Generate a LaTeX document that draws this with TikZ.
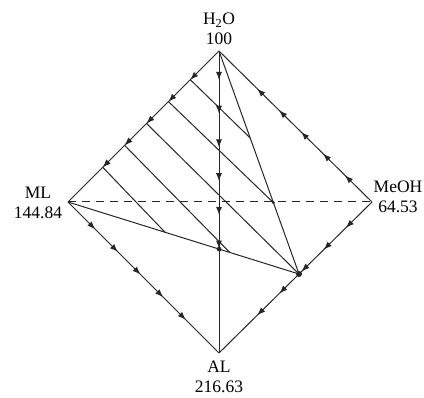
\documentclass[tikz,border=0pt]{standalone}
\usepackage{fontspec}
\setmainfont{Liberation Serif}
\usetikzlibrary{decorations.markings,arrows.meta,calc}
\tikzset{
  ln/.style={line width=1pt, draw=black!85},
  arrs/.style n args={3}{postaction={decorate,decoration={markings,
    mark=between positions #1 and #2 step #3 with {\arrow{Latex[length=8pt,width=6pt]}}}}},
  dashline/.style={line width=1pt, draw=black!85, dash pattern=on 8pt off 6pt},
  lbl/.style={align=center, font=\fontsize{17.5}{20.5}\selectfont, inner sep=0pt},
  dot/.style={fill=black!85}
}
\begin{document}
\begin{tikzpicture}[x=1pt,y=-1pt]
\useasboundingbox (0,0) rectangle (424,398);
% vertices
\coordinate (HO) at (219,51);
\coordinate (ML) at (68,202);
\coordinate (MeOH) at (372,202);
\coordinate (AL) at (219,353);
\coordinate (P) at ($(MeOH)!0.477!(AL)$);
% labels
\node[lbl] (lHO) at (219,29) {H\textsubscript{2}O\\100};
\node[lbl] (lML) at (38,203) {ML\\144.84};
\node[lbl] (lMeOH) at (398,197) {MeOH\\64.53};
\node[lbl] (lAL) at (219,377) {AL\\216.63};
% tie line start points on HO-ML edge
\foreach \i/\f in {1/0.19,2/0.335,3/0.48,4/0.625,5/0.77}
  \coordinate (t\i) at ($(HO)!\f!(ML)$);
% end points
\coordinate (e1) at ($(HO)!0.39!(P)$);
\coordinate (e2) at ($(HO)!0.68!(P)$);
\coordinate (e4) at ($(ML)!0.70!(P)$);
\coordinate (e5) at ($(ML)!0.42!(P)$);
\coordinate (X) at ($(ML)!0.654!(P)$);
% dashed line
\draw[dashline] (ML) -- (MeOH);
% inner lines
\draw[ln] (HO) -- (P);
\draw[ln] (ML) -- (P);
\draw[ln] (t1) -- (e1);
\draw[ln] (t2) -- (e2);
\draw[ln] (t3) -- (P);
\draw[ln] (t4) -- (e4);
\draw[ln] (t5) -- (e5);
% edges with arrows
\draw[ln, arrs={0.19}{0.771}{0.145}] (HO) -- (ML);
\draw[ln, arrs={0.18}{0.781}{0.15}] (ML) -- (AL);
\draw[ln, arrs={0.176}{0.751}{0.1435}] (MeOH) -- (HO);
\draw[ln, arrs={0.17}{0.751}{0.145}] (MeOH) -- (AL);
\draw[ln, arrs={0.096}{0.766}{0.1117}] (HO) -- (AL);
% dots
\fill[dot] (P) circle (3pt);
\fill[dot] (X) circle (2.4pt);
\fill[dot] (e2) circle (1.6pt);
\end{tikzpicture}
\end{document}
